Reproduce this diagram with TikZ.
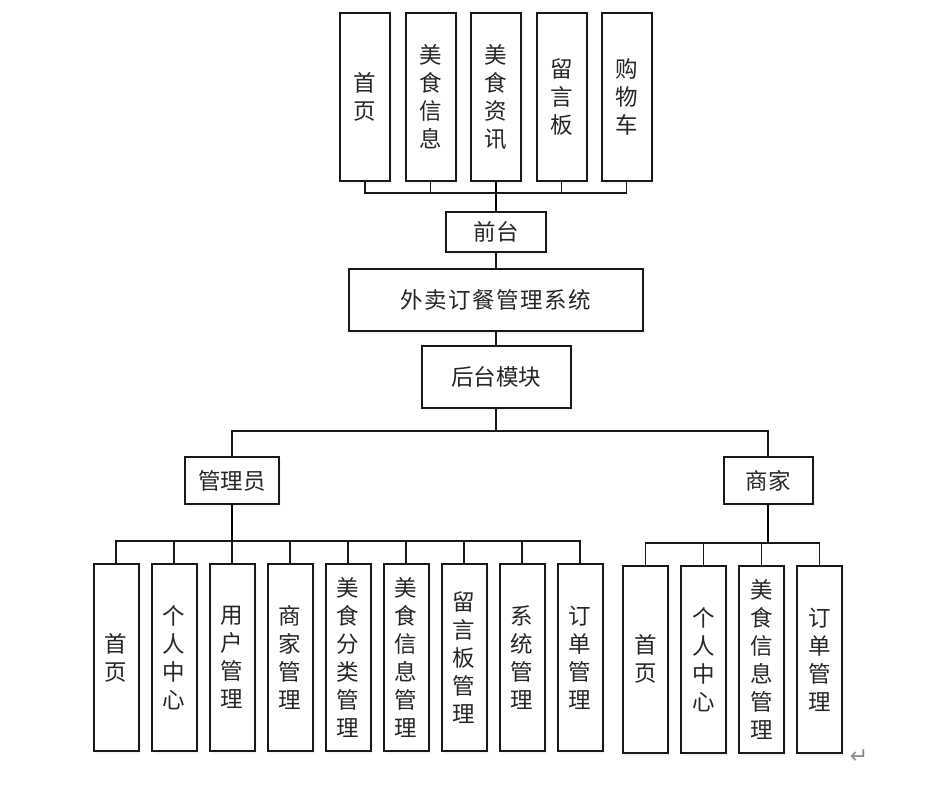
\documentclass[tikz,border=0pt]{standalone}
\usepackage{fontspec}
\newfontfamily\cjk{Noto Sans CJK SC}
\newfontfamily\dejavu{DejaVu Sans}
\usetikzlibrary{shadows}
\newcommand{\chgap}{\kern1.5pt}
\begin{document}
\begin{tikzpicture}[x=1pt,y=-1pt,
  box/.style={draw=black!90, line width=2pt, fill=white, inner sep=0pt, align=center,
    font=\cjk\fontsize{22.5}{28}\selectfont, text=black!85,
    drop shadow={opacity=0.10, fill=blue!40, shadow xshift=2pt, shadow yshift=-3pt}},
  tallbox/.style={box, minimum width=50pt, minimum height=168pt},
  kidbox/.style={box, minimum width=45pt, minimum height=187pt},
  link/.style={draw=black!90, line width=1.5pt},
  trunk/.style={draw=black, line width=2.4pt}]
\useasboundingbox (0,0) rectangle (944,786);
\fill[white] (0,0) rectangle (944,786);
% top row
\node[tallbox] (t1) at (365,97) {首\\页};
\node[tallbox] (t2) at (430.5,97) {美\\食\\信\\息};
\node[tallbox] (t3) at (496,97) {美\\食\\资\\讯};
\node[tallbox] (t4) at (561.5,97) {留\\言\\板};
\node[tallbox] (t5) at (626.5,97) {购\\物\\车};
\coordinate (tb) at (496,193);
\foreach \i in {1,...,5} {\draw[link] (t\i.south) |- (tb);}
\node[box, minimum width=100pt, minimum height=40pt] (qt) at (496,232) {前台};
\draw[trunk] (t3.south) -- (qt.north);
\node[box, minimum width=294pt, minimum height=62pt] (sys) at (496,299.5) {外\chgap 卖\chgap 订\chgap 餐\chgap 管\chgap 理\chgap 系\chgap 统};
\draw[link] (qt.south) -- (sys.north);
\node[box, minimum width=149pt, minimum height=62pt] (ht) at (496,376.5) {后台模块};
\draw[link] (sys.south) -- (ht.north);
\coordinate (hb) at (496,431);
\draw[link] (ht.south) -- (hb);
\node[box, minimum width=94pt, minimum height=47pt] (adm) at (232,480.7) {管理员};
\node[box, minimum width=89pt, minimum height=47pt] (sj) at (768,480.5) {商家};
\draw[link] (adm.north) |- (hb);
\draw[link] (sj.north) |- (hb);
% admin children
\coordinate (ab) at (232,541);
\node[kidbox] (a1) at (116,657.5) {首\\页};
\node[kidbox] (a2) at (174,657.5) {个\\人\\中\\心};
\node[kidbox] (a3) at (232,657.5) {用\\户\\管\\理};
\node[kidbox] (a4) at (290,657.5) {商\\家\\管\\理};
\node[kidbox] (a5) at (348,657.5) {美\\食\\分\\类\\管\\理};
\node[kidbox] (a6) at (406,657.5) {美\\食\\信\\息\\管\\理};
\node[kidbox] (a7) at (464,657.5) {留\\言\\板\\管\\理};
\node[kidbox] (a8) at (522,657.5) {系\\统\\管\\理};
\node[kidbox] (a9) at (580,657.5) {订\\单\\管\\理};
\foreach \i in {1,...,9} {\draw[link] (a\i.north) |- (ab);}
\draw[trunk] (adm.south) -- (ab);
% merchant children
\coordinate (mb) at (768,543);
\node[kidbox] (m1) at (645.3,659.3) {首\\页};
\node[kidbox] (m2) at (703.3,659.3) {个\\人\\中\\心};
\node[kidbox] (m3) at (761.3,659.3) {美\\食\\信\\息\\管\\理};
\node[kidbox] (m4) at (819.3,659.3) {订\\单\\管\\理};
\foreach \i in {1,...,4} {\draw[link] (m\i.north) |- (mb);}
\draw[trunk] (sj.south) -- (mb);
\node[text=black!45, font=\dejavu\fontsize{22}{24}\selectfont, inner sep=0pt] (ret) at (859,757) {↵};
\end{tikzpicture}
\end{document}
